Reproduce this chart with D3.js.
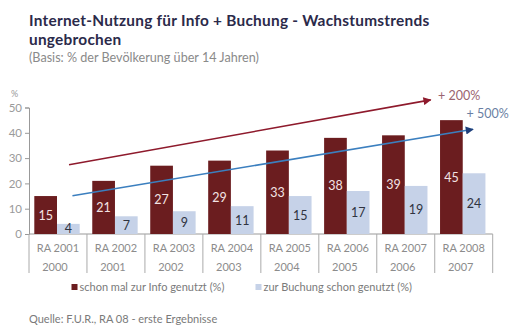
<!DOCTYPE html>
<html>
<head>
<meta charset="utf-8">
<script src="https://unpkg.com/d3@7/dist/d3.min.js"></script>
<style>
  body { margin: 0; background: #fff; }
  svg { display: block; font-family: Lato, "Liberation Sans", sans-serif; }
</style>
</head>
<body>
<div class="chart"></div>
<script>
// data
const categories = ["RA 2001", "RA 2002", "RA 2003", "RA 2004", "RA 2005", "RA 2006", "RA 2007", "RA 2008"];
const years = ["2000", "2001", "2002", "2003", "2004", "2005", "2006", "2007"];
const infoValues = [15, 21, 27, 29, 33, 38, 39, 45];
const buchungValues = [4, 7, 9, 11, 15, 17, 19, 24];
const yTicks = [0, 10, 20, 30, 40, 50];
const seriesNames = ["schon mal zur Info genutzt (%)", "zur Buchung schon genutzt (%)"];
// trend arrows: [category position, value]
const trendInfo = [[0.69, 27.4], [6.93, 53]];
const trendBuchung = [[0.75, 15.1], [7.66, 41.4]];
const trendLabels = ["+ 200%", "+ 500%"];

const width = 519, height = 331;
const colInfo = "#6b1d1f", colBuch = "#c6d2e8";

const svg = d3.select(".chart").append("svg")
  .attr("width", width).attr("height", height);

// title
svg.append("text").attr("x", 29).attr("y", 25.5)
  .attr("font-size", "15.4px").attr("font-weight", "bold").attr("fill", "#2b2a4a")
  .attr("letter-spacing", "0.25px")
  .text("Internet-Nutzung für Info + Buchung - Wachstumstrends");
svg.append("text").attr("x", 29).attr("y", 44.5)
  .attr("font-size", "15.4px").attr("font-weight", "bold").attr("fill", "#2b2a4a")
  .attr("letter-spacing", "0.25px")
  .text("ungebrochen");
svg.append("text").attr("x", 29).attr("y", 62)
  .attr("font-size", "12.6px").attr("fill", "#8a8a8a")
  .text("(Basis: % der Bevölkerung über 14 Jahren)");

// scales
const x = d3.scaleBand().domain(categories).range([29, 492.7]).padding(0);
const xInner = d3.scaleBand().domain(["info", "buch"]).range([5.3, 50.7]).padding(0);
const xPos = d3.scaleLinear().domain([0, categories.length]).range([29, 492.7]);
const y = d3.scaleLinear().domain([0, 50]).range([234, 107.5]);

// y axis
const yAxis = svg.append("g").attr("transform", "translate(29,0)")
  .call(d3.axisLeft(y).tickValues(yTicks).tickSize(4).tickPadding(3));
yAxis.select(".domain").attr("stroke", "#999");
yAxis.selectAll(".tick line").attr("stroke", "#999");
yAxis.selectAll(".tick text").attr("fill", "#9a9a9a").attr("font-size", "11.5px")
  .attr("font-family", "Lato, sans-serif");
svg.append("text").attr("x", 11).attr("y", 97)
  .attr("font-size", "9px").attr("fill", "#9a9a9a").text("%");

// baseline and category separators
svg.append("line").attr("x1", 29).attr("x2", 492.7).attr("y1", y(0)).attr("y2", y(0))
  .attr("stroke", "#999");
svg.selectAll(".sep").data(d3.range(categories.length + 1)).join("line")
  .attr("class", "sep")
  .attr("x1", d => xPos(d)).attr("x2", d => xPos(d))
  .attr("y1", y(0)).attr("y2", 273)
  .attr("stroke", "#aaa");

// bars
const groups = svg.selectAll(".grp").data(categories).join("g")
  .attr("class", "grp")
  .attr("transform", d => `translate(${x(d)},0)`);

groups.append("rect")
  .attr("x", xInner("info")).attr("width", xInner.bandwidth())
  .attr("y", (d, i) => y(infoValues[i]))
  .attr("height", (d, i) => y(0) - y(infoValues[i]))
  .attr("fill", colInfo);
groups.append("rect")
  .attr("x", xInner("buch")).attr("width", xInner.bandwidth())
  .attr("y", (d, i) => y(buchungValues[i]))
  .attr("height", (d, i) => y(0) - y(buchungValues[i]))
  .attr("fill", colBuch);

groups.append("text")
  .attr("x", xInner("info") + xInner.bandwidth() / 2)
  .attr("y", (d, i) => (y(infoValues[i]) + y(0)) / 2 + 4.5)
  .attr("text-anchor", "middle").attr("font-size", "12.5px").attr("fill", "#f3e4e4")
  .text((d, i) => infoValues[i]);
groups.append("text")
  .attr("x", xInner("buch") + xInner.bandwidth() / 2)
  .attr("y", (d, i) => (y(buchungValues[i]) + y(0)) / 2 + 4.5)
  .attr("text-anchor", "middle").attr("font-size", "12.5px").attr("fill", "#2f3340")
  .text((d, i) => buchungValues[i]);

// category labels
groups.append("text")
  .attr("x", x.bandwidth() / 2).attr("y", 251.5)
  .attr("text-anchor", "middle").attr("font-size", "11px").attr("fill", "#8c8c8c")
  .text(d => d);
groups.append("text")
  .attr("x", x.bandwidth() / 2 - 3).attr("y", 270.5)
  .attr("text-anchor", "middle").attr("font-size", "11px").attr("fill", "#8c8c8c")
  .text((d, i) => years[i]);

// trend arrows
const defs = svg.append("defs");
function marker(id, color) {
  defs.append("marker").attr("id", id)
    .attr("viewBox", "0 0 10 10").attr("refX", 9).attr("refY", 5)
    .attr("markerUnits", "userSpaceOnUse")
    .attr("markerWidth", 12).attr("markerHeight", 8)
    .attr("orient", "auto")
    .append("path").attr("d", "M0,0L10,5L0,10Z").attr("fill", color);
}
marker("arrInfo", "#8e1a2c");
marker("arrBuch", "#1f3f7a");

const line = d3.line().x(d => xPos(d[0])).y(d => y(d[1]));
svg.append("path").datum(trendInfo).attr("d", line)
  .attr("fill", "none").attr("stroke", "#8e1a2c").attr("stroke-width", 1.6)
  .attr("marker-end", "url(#arrInfo)");
svg.append("path").datum(trendBuchung).attr("d", line)
  .attr("fill", "none").attr("stroke", "#3b7fbf").attr("stroke-width", 1.6)
  .attr("marker-end", "url(#arrBuch)");

svg.append("text").attr("x", 438).attr("y", 100)
  .attr("font-size", "12.5px").attr("fill", "#9a6470").text(trendLabels[0]);
svg.append("text").attr("x", 466.5).attr("y", 117.5)
  .attr("font-size", "12.5px").attr("fill", "#6a7fa3").text(trendLabels[1]);

// legend
const legend = svg.selectAll(".leg").data(seriesNames).join("g")
  .attr("class", "leg")
  .attr("transform", (d, i) => `translate(${i === 0 ? 71.5 : 255.5},284)`);
legend.append("rect").attr("width", 6).attr("height", 6)
  .attr("fill", (d, i) => i === 0 ? colInfo : colBuch);
legend.append("text").attr("x", 8).attr("y", 7)
  .attr("font-size", "11px").attr("fill", "#7a7a7a").text(d => d);

// source
svg.append("text").attr("x", 29).attr("y", 323)
  .attr("font-size", "11px").attr("fill", "#7a7a7a")
  .text("Quelle: F.U.R., RA 08 - erste Ergebnisse");
</script>
</body>
</html>
